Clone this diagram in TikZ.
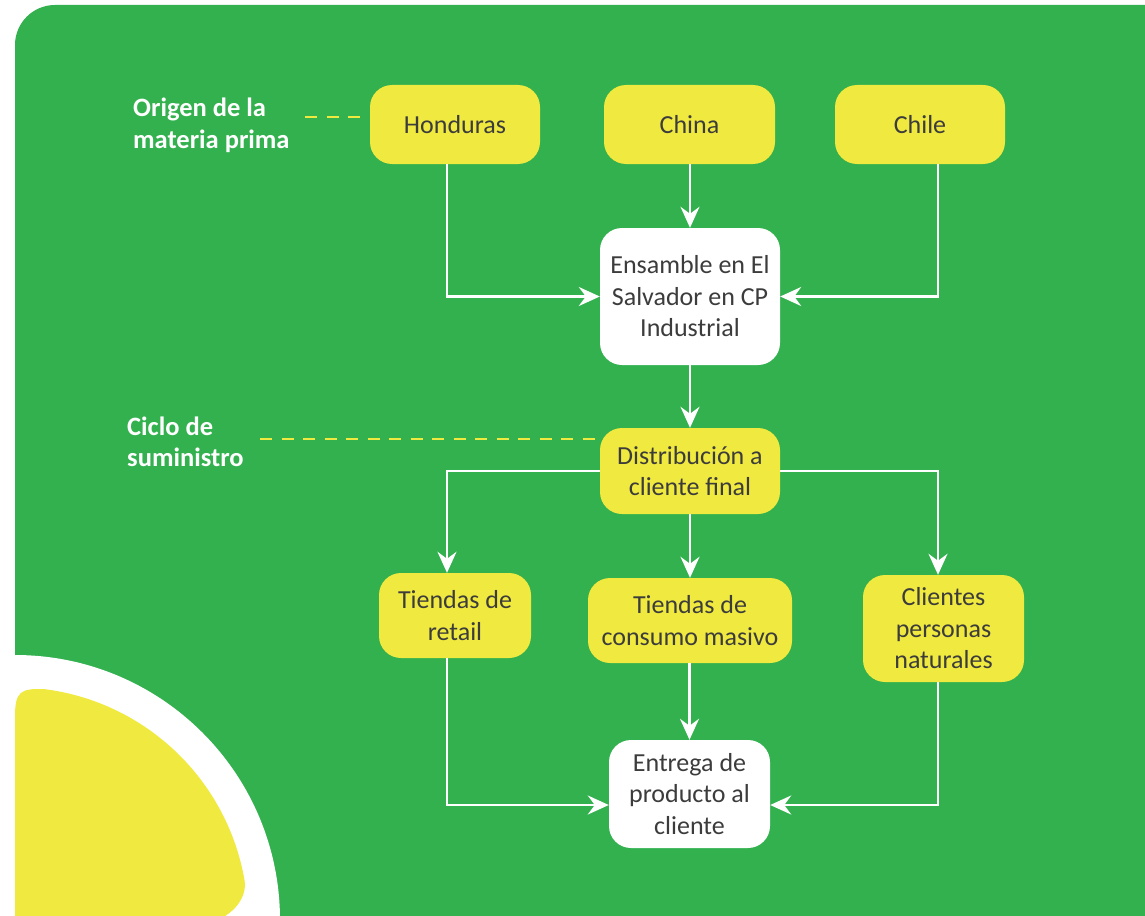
\documentclass[tikz,border=0pt]{standalone}
\usepackage{fontspec}
\setmainfont{Carlito}
\usetikzlibrary{arrows.meta}
\definecolor{gr}{HTML}{32B14E}
\definecolor{yel}{HTML}{F0E93F}
\definecolor{txt}{HTML}{3C3C3C}
\begin{document}
\begin{tikzpicture}[x=1pt,y=-1pt,
  box/.style={rounded corners=22pt, inner sep=0pt, align=center, text=txt,
    font=\fontsize{26}{31.5}\selectfont},
  ybox/.style={box, fill=yel},
  wbox/.style={box, fill=white},
  lab/.style={anchor=west, align=left, text=white, inner sep=0pt,
    font=\bfseries\fontsize{26.5}{31.5}\selectfont},
  conn/.style={white, line width=2.5pt, -{Stealth[length=21pt,width=19pt,inset=7pt]}},
  dash line/.style={yel, line width=2.5pt, dash pattern=on 12pt off 9.5pt}]
\useasboundingbox (0,0) rectangle (1145,915);
\clip (0,0) rectangle (1145,915);
% background panel
\fill[gr, rounded corners=40pt] (15,980) -- (15,5) -- (1200,5) -- (1200,980) -- cycle;
\fill[white] (15,920) circle (265);
\fill[yel] (15,960) -- (15,717) .. controls (15,692) and (20,688) .. (45,689.2)
  arc[start angle=-82.6, end angle=-10, radius=233]
  .. controls (248,900) and (230,918) .. (205,925) -- (15,960) -- cycle;
% nodes
\node[ybox, minimum width=170pt, minimum height=79pt] (hon) at (455,124.5) {Honduras};
\node[ybox, minimum width=171pt, minimum height=79pt] (chn) at (689.5,124.5) {China};
\node[ybox, minimum width=170pt, minimum height=79pt] (chl) at (920,124.5) {Chile};
\node[wbox, minimum width=180pt, minimum height=137pt] (ens) at (690,296.5) {Ensamble en El\\Salvador en CP\\Industrial};
\node[ybox, minimum width=180pt, minimum height=86pt] (dis) at (690,471) {Distribución a\\cliente final};
\node[ybox, minimum width=152pt, minimum height=85pt] (ret) at (455,615.5) {Tiendas de\\retail};
\node[ybox, minimum width=204pt, minimum height=85pt] (con) at (690,620.5) {Tiendas de\\consumo masivo};
\node[ybox, minimum width=161pt, minimum height=107pt] (cli) at (943.5,628.5) {Clientes\\personas\\naturales};
\node[wbox, minimum width=161pt, minimum height=108pt] (ent) at (689.5,794) {Entrega de\\producto al\\cliente};
\node[lab] (l1) at (133,125.5) {Origen de la\\materia prima};
\node[lab] (l2) at (127,442) {Ciclo de\\suministro};
% helper coordinates
\coordinate (lx) at (447,0);
\coordinate (rx) at (938,0);
\coordinate (ey) at (0,805);
% connectors
\draw[conn] (hon.south -| lx) |- (ens.west);
\draw[conn] (chl.south -| rx) |- (ens.east);
\draw[conn] (chn.south -| ens.north) -- (ens.north);
\draw[conn] (ens.south) -- (ens.south |- dis.north);
\draw[conn] (dis.west) -| (ret.north -| lx);
\draw[conn] (dis.east) -| (cli.north -| rx);
\draw[conn] (dis.south) -- (dis.south |- con.north);
\draw[conn] (ret.south -| lx) |- (ent.west |- ey);
\draw[conn] (cli.south -| rx) |- (ent.east |- ey);
\draw[conn] (con.south -| ent.north) -- (ent.north);
% dashed label leaders
\draw[dash line] (305,117) coordinate (o0) -- ([xshift=-10pt]o0 -| hon.west);
\draw[dash line] (260,439) coordinate (d0) -- (d0 -| dis.west);
\end{tikzpicture}
\end{document}
